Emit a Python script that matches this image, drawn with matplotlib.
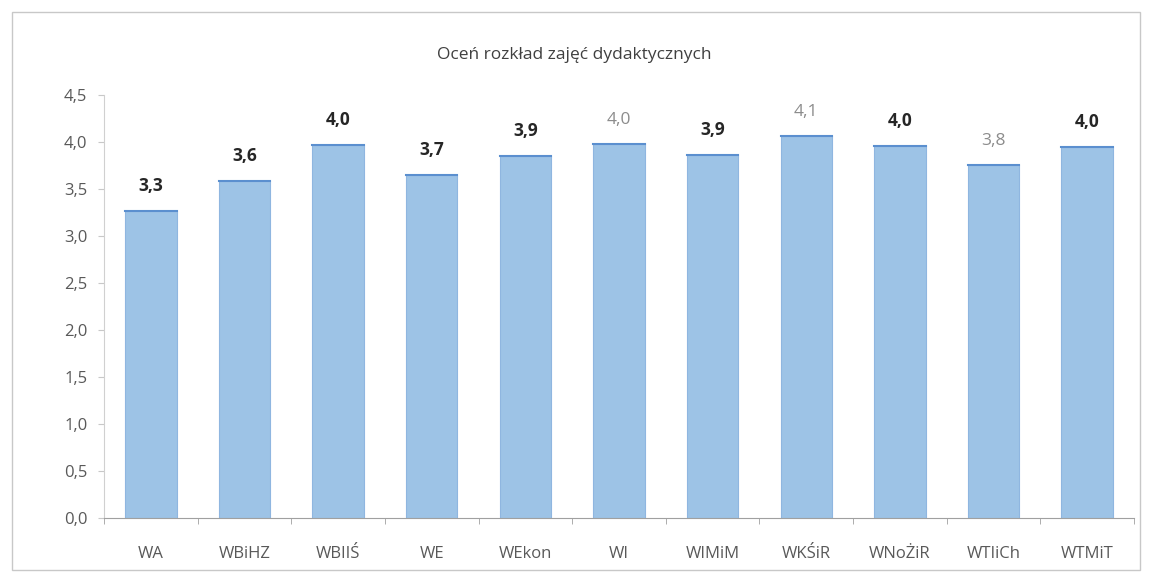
import matplotlib
matplotlib.use("Agg")
import matplotlib.pyplot as plt
from matplotlib.patches import Rectangle
import numpy as np

categories = ["WA", "WBiHZ", "WBIIŚ", "WE", "WEkon", "WI", "WIMiM", "WKŚiR", "WNoŻiR", "WTIiCh", "WTMiT"]
values = [3.27, 3.59, 3.97, 3.65, 3.85, 3.98, 3.86, 4.06, 3.96, 3.76, 3.95]
labels = ["3,3", "3,6", "4,0", "3,7", "3,9", "4,0", "3,9", "4,1", "4,0", "3,8", "4,0"]
label_bold = [True, True, True, True, True, False, True, False, True, False, True]
yticks = [0.0, 0.5, 1.0, 1.5, 2.0, 2.5, 3.0, 3.5, 4.0, 4.5]
title = "Oceń rozkład zajęć dydaktycznych"

plt.rcParams['font.family'] = ['Open Sans', 'DejaVu Sans']

fig = plt.figure(figsize=(11.49, 5.80), dpi=100)
fig.patches.append(Rectangle((12/1149, 10/580), 1128/1149, 558/580, transform=fig.transFigure,
                             fill=False, edgecolor="#c8c8c8", linewidth=1.0))
ax = fig.add_axes([104/1149, 1 - 518/580, 1030/1149, (518 - 95)/580])

x = np.arange(len(categories))
bw = 0.55
ax.bar(x, values, width=bw, color="#9dc3e6", edgecolor="#8fb6e0", linewidth=0.8, zorder=2)
for xi, v in zip(x, values):
    ax.plot([xi - bw/2, xi + bw/2], [v, v], color="#5b8fcf", linewidth=1.5, zorder=3)

for xi, v, lab, b in zip(x, values, labels, label_bold):
    ax.text(xi, v + 0.17, lab, ha="center", va="bottom", fontsize=12.5,
            fontweight="bold" if b else "normal",
            color="#262626" if b else "#8c8c8c")

ax.set_xlim(-0.5, len(categories) - 0.5)
ax.set_ylim(0, 4.5)
ax.set_yticks(yticks)
ax.set_yticklabels([f"{t:.1f}".replace(".", ",") for t in yticks], color="#595959", fontsize=12)
ax.set_xticks(x)
ax.set_xticklabels(categories, color="#595959", fontsize=12)
ax.set_xticks(np.arange(len(categories) + 1) - 0.5, minor=True)
ax.tick_params(axis="x", which="major", length=0, pad=20)
ax.tick_params(axis="x", which="minor", length=4, color="#a0a0a0", direction="out")
ax.tick_params(axis="y", which="major", length=4, color="#c8c8c8", direction="out", pad=8)

for s in ["top", "right"]:
    ax.spines[s].set_visible(False)
ax.spines["left"].set_color("#d0d0d0")
ax.spines["bottom"].set_color("#a0a0a0")

fig.text(0.5, 1 - 55/580, title, ha="center", va="center", fontsize=12.5, color="#404040")

fig.savefig("out.png", dpi=100)
